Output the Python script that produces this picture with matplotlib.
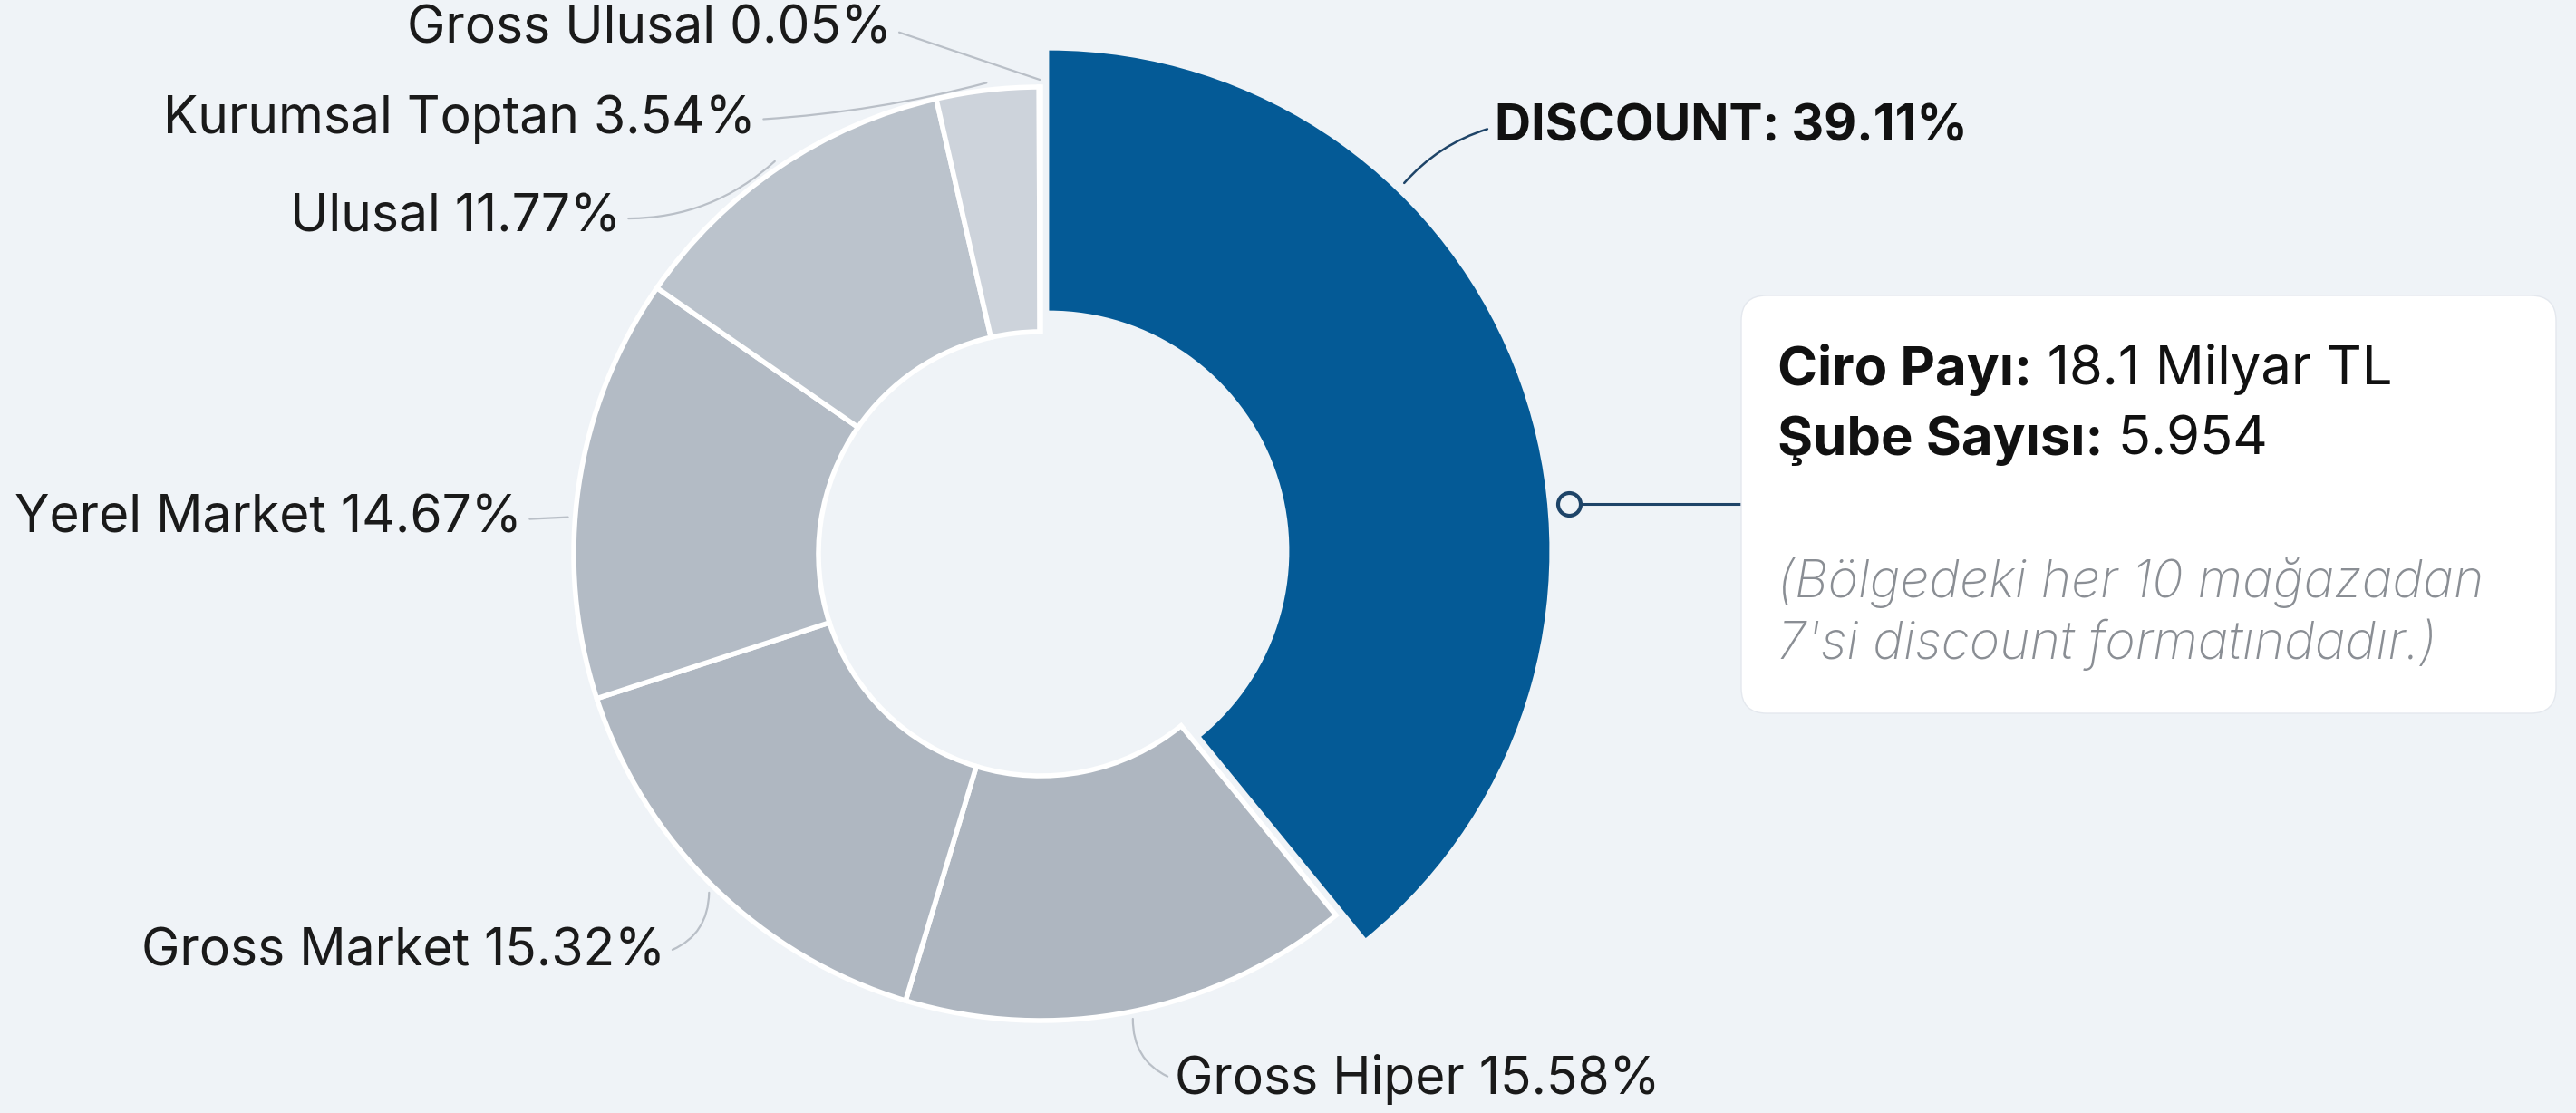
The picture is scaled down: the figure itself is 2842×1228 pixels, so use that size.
import matplotlib
matplotlib.use("Agg")
import matplotlib.pyplot as plt
from matplotlib.patches import FancyBboxPatch
import numpy as np

# --- data -------------------------------------------------------------
labels = ["DISCOUNT", "Gross Hiper", "Gross Market", "Yerel Market",
          "Ulusal", "Kurumsal Toptan", "Gross Ulusal"]
shares = [39.11, 15.58, 15.32, 14.67, 11.77, 3.54, 0.05]
colors = ["#045A96", "#AEB6C0", "#AFB7C1", "#B3BBC5", "#BBC3CC", "#CDD3DB", "#D6DBE2"]

ciro_payi = "18.1 Milyar TL"
sube_sayisi = "5.954"
note_lines = ["(Bölgedeki her 10 mağazadan", "7'si discount formatındadır.)"]

# --- style --------------------------------------------------------------
W, H = 2842, 1228
BG = "#EFF3F7"
NAVY = "#1E4468"
LEADER = "#B9BFC7"
plt.rcParams["font.family"] = ["Inter", "DejaVu Sans"]


def Y(y):
    # image rows -> data y (axes use pixel units, y up)
    return H - y


fig = plt.figure(figsize=(W / 100, H / 100), dpi=100, facecolor=BG)
ax = fig.add_axes([0, 0, 1, 1])
ax.set_facecolor(BG)

cx, cy = 1148, Y(611)
R, ring = 515, 270

wedges, _ = ax.pie(shares, center=(cx, cy), radius=R, startangle=90,
                   counterclock=False, colors=colors,
                   wedgeprops=dict(width=ring, edgecolor="white", linewidth=4))
ax.set_xlim(0, W)
ax.set_ylim(0, H)
ax.axis("off")

# highlighted slice: larger ring, nudged outwards
d = wedges[0]
mid = np.deg2rad((d.theta1 + d.theta2) / 2)
dcx, dcy = cx + 10 * np.cos(mid), cy + 10 * np.sin(mid)
Rd = 552
d.set_center((dcx, dcy))
d.set_radius(Rd)
d.set_width(287)
d.set_linewidth(0)

# --- slice labels ---------------------------------------------------------
# text anchor (image px), alignment, leader curvature, angle nudge
layout = {
    "Gross Hiper": (1296, 1191, "left", -0.35, 0),
    "Gross Market": (734, 1051, "right", 0.35, 0),
    "Yerel Market": (576, 573, "right", 0.0, 3.9),
    "Ulusal": (685, 241, "right", 0.2, 0),
    "Kurumsal Toptan": (834, 132, "right", 0.05, 0),
    "Gross Ulusal": (984, 33, "right", 0.0, 0),
}

for w, name, val in zip(wedges[1:], labels[1:], shares[1:]):
    tx, ty, ha, rad, nudge = layout[name]
    a = np.deg2rad((w.theta1 + w.theta2) / 2 + nudge)
    anchor = (cx + (R + 8) * np.cos(a), cy + (R + 8) * np.sin(a))
    ax.annotate(f"{name} {val:.2f}%", xy=anchor, xytext=(tx, Y(ty)),
                ha=ha, va="center", fontsize=41, color="#1A1A1A",
                arrowprops=dict(arrowstyle="-", color=LEADER, lw=1.6,
                                shrinkA=4, shrinkB=0,
                                relpos=(1, 0.5) if ha == "right" else (0, 0.5),
                                connectionstyle=f"arc3,rad={rad}"))

# discount label
a = np.deg2rad(90 - 44)
anchor = (dcx + (Rd + 12) * np.cos(a), dcy + (Rd + 12) * np.sin(a))
ax.annotate(f"{labels[0]}: {shares[0]:.2f}%", xy=anchor, xytext=(1649, Y(140)),
            ha="left", va="center", fontsize=40, fontweight="bold", color="#111111",
            arrowprops=dict(arrowstyle="-", color=NAVY, lw=1.8, shrinkA=4, shrinkB=0,
                            relpos=(0, 0.5), connectionstyle="arc3,rad=0.15"))

# --- callout box ------------------------------------------------------------
bx0, by0, bx1, by1 = 1921, 326, 2820, 787
box = FancyBboxPatch((bx0, Y(by1)), bx1 - bx0, by1 - by0,
                     boxstyle="round,pad=0,rounding_size=28",
                     facecolor="white", edgecolor="#E4E8EE", linewidth=1, zorder=3)
ax.add_patch(box)

ax.plot([1731, bx0], [Y(556), Y(556)], color=NAVY, lw=2.2, zorder=2)
ax.plot([1731], [Y(556)], marker="o", ms=18, mfc=BG, mec=NAVY, mew=3, zorder=4)

fig.canvas.draw()


def rich(x, y, parts, size):
    for txt, weight in parts:
        t = ax.text(x, Y(y), txt, fontsize=size, fontweight=weight,
                    ha="left", va="center", color="#111111", zorder=5)
        bb = t.get_window_extent(renderer=fig.canvas.get_renderer())
        x = ax.transData.inverted().transform((bb.x1, bb.y0))[0]


rich(1961, 408, [("Ciro Payı:", "bold"), (" " + ciro_payi, "normal")], 43)
rich(1961, 486, [("Şube Sayısı:", "bold"), (" " + sube_sayisi, "normal")], 43)

for i, line in enumerate(note_lines):
    ax.text(1961, Y(643 + 68 * i), line, fontsize=41, fontstyle="italic",
            fontweight="light", color="#8A8E94", ha="left", va="center", zorder=5)

fig.savefig("out.png", dpi=100, facecolor=BG)
